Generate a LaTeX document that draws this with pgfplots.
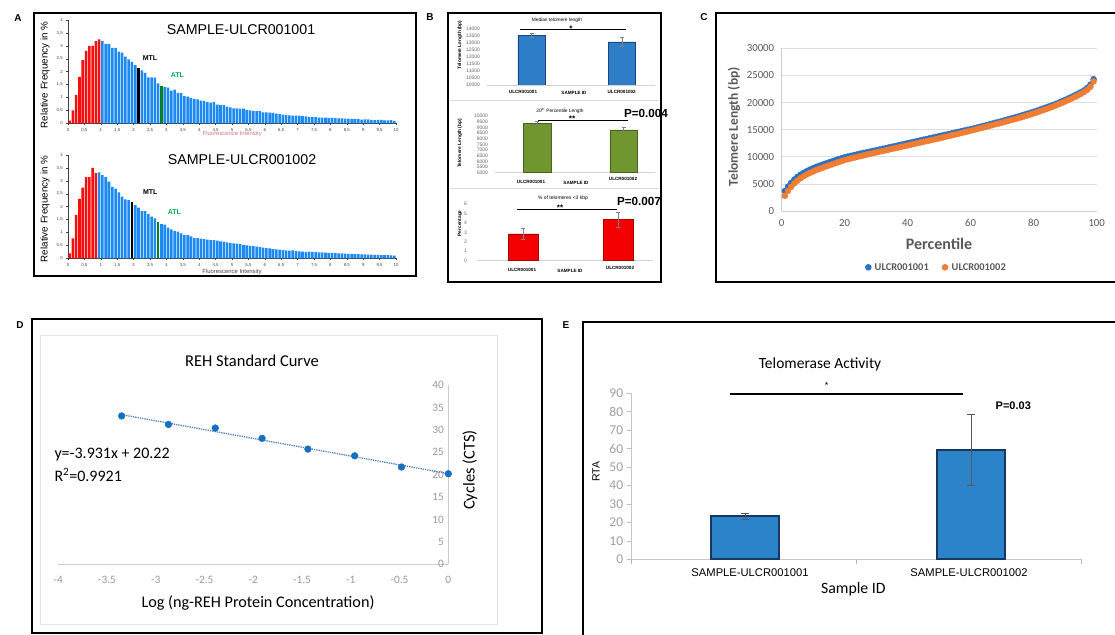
\documentclass[border=0pt]{standalone}
\usepackage{fontspec}
\setmainfont{Liberation Sans}
\newfontfamily\carlito{Carlito}
\usepackage{pgfplots}
\pgfplotsset{compat=1.18}
\definecolor{hred}{RGB}{245,15,15}
\definecolor{hblue}{RGB}{28,138,242}
\definecolor{hgreen}{RGB}{10,130,30}
\definecolor{atlgreen}{RGB}{0,175,80}
\definecolor{flred}{RGB}{205,120,120}
\definecolor{bblue}{RGB}{46,125,200}
\definecolor{bbluedk}{RGB}{25,70,130}
\definecolor{bgreen}{RGB}{112,150,48}
\definecolor{bgreendk}{RGB}{70,100,30}
\definecolor{bred}{RGB}{245,0,0}
\definecolor{breddk}{RGB}{170,0,0}
\definecolor{cblue}{RGB}{40,115,200}
\definecolor{corange}{RGB}{240,125,50}
\definecolor{cgray}{RGB}{89,89,89}
\definecolor{dblue}{RGB}{25,112,192}
\definecolor{dtrend}{RGB}{80,130,185}
\definecolor{ebar}{RGB}{43,131,201}
\definecolor{ebardk}{RGB}{22,56,96}
\pgfplotsset{
  every axis/.append style={scale only axis, anchor=south west, /pgf/number format/assume math mode=true},
  hist/.style={xmin=0,xmax=10,ymin=0,ymax=4, axis lines=left,
    axis line style={-, black!75, line width=0.5pt},
    xtick={0,0.5,...,10}, ytick={0,0.5,...,4},
    tick label style={font=\fontsize{4.3}{5}\selectfont, text=black!75},
    /pgf/number format/use comma, tick align=outside, major tick length=1.8pt,
    tick style={black!75, line width=0.4pt}, enlargelimits=false, clip=false},
  bsub/.style={axis x line*=bottom, axis y line*=left, y axis line style={draw=none},
    x axis line style={-, gray!35, line width=0.6pt}, xtick=\empty, ytick style={draw=none},
    yticklabel style={font=\fontsize{5}{5}\selectfont, text=black!60, xshift=-3.5pt},
    scaled y ticks=false, /pgf/number format/1000 sep={}},
}
\begin{document}
\begin{tikzpicture}
\path[use as bounding box, fill=white] (0,0) rectangle (1115pt,-634pt);
% frames
\draw[line width=2pt] (34pt,-13pt) rectangle (416pt,-276pt);
\draw[line width=2pt] (448pt,-13pt) rectangle (661pt,-282pt);
\draw[line width=2pt] (1116pt,-13pt) -- (716pt,-13pt) -- (716pt,-282pt) -- (1116pt,-282pt);
\draw[line width=2pt] (32pt,-319pt) rectangle (541.7pt,-633pt);
\draw[line width=2pt] (1116pt,-321.7pt) -- (583pt,-321.7pt) -- (583pt,-636pt);
\draw[gray!20, line width=0.8pt] (40pt,-335pt) rectangle (497pt,-624pt);
\draw[gray!30, line width=0.8pt] (450pt,-100pt) -- (659pt,-100pt);
\draw[gray!30, line width=0.8pt] (450pt,-188pt) -- (659pt,-188pt);
% panel letters
\node[font=\bfseries\fontsize{10}{12}\selectfont] at (18pt,-18pt) {A};
\node[font=\bfseries\fontsize{10}{12}\selectfont] at (430pt,-17pt) {B};
\node[font=\bfseries\fontsize{10}{12}\selectfont] at (704pt,-17pt) {C};
\node[font=\bfseries\fontsize{10}{12}\selectfont] at (20pt,-325pt) {D};
\node[font=\bfseries\fontsize{10}{12}\selectfont] at (566pt,-325pt) {E};

% ---------------- Panel A, histogram 1
\begin{axis}[hist, at={(68pt,-123.3pt)}, width=328pt, height=103.3pt]
\addplot[ybar, bar shift=0pt, bar width=0.078, fill=hred, draw=none] coordinates {(0.05,0.1) (0.15,0.5) (0.25,1.1) (0.35,1.8) (0.45,2.45) (0.55,2.8) (0.65,3.0) (0.75,3.0) (0.85,3.18) (0.95,3.25)};
\addplot[ybar, bar shift=0pt, bar width=0.078, fill=hblue, draw=none] coordinates {(1.05,3.18) (1.15,3.08) (1.25,3.07) (1.35,2.92) (1.45,2.92) (1.55,2.78) (1.65,2.74) (1.75,2.58) (1.85,2.48) (1.95,2.38) (2.05,2.25)
(2.25,2.05) (2.35,1.95) (2.45,1.78) (2.55,1.78) (2.65,1.77) (2.75,1.55)
(2.95,1.4) (3.05,1.38) (3.15,1.27) (3.25,1.3) (3.35,1.18) (3.45,1.17) (3.55,1.05) (3.65,1.03) (3.75,0.98) (3.85,0.95) (3.95,0.93) (4.05,0.88) (4.15,0.87) (4.25,0.82) (4.35,0.8) (4.45,0.82) (4.55,0.72) (4.65,0.7) (4.75,0.7) (4.85,0.65) (4.95,0.62) (5.05,0.58) (5.15,0.58) (5.25,0.57) (5.35,0.57) (5.45,0.52) (5.55,0.5) (5.65,0.48) (5.75,0.47) (5.85,0.47) (5.95,0.42) (6.05,0.42) (6.15,0.41) (6.25,0.4) (6.35,0.37) (6.45,0.36) (6.55,0.34) (6.65,0.33) (6.75,0.31) (6.85,0.3) (6.95,0.3) (7.05,0.3) (7.15,0.28) (7.25,0.27) (7.35,0.25) (7.45,0.25) (7.55,0.24) (7.65,0.22) (7.75,0.22) (7.85,0.22) (7.95,0.21) (8.05,0.21) (8.15,0.2) (8.25,0.19) (8.35,0.19) (8.45,0.18) (8.55,0.18) (8.65,0.17) (8.75,0.17) (8.85,0.16) (8.95,0.14) (9.05,0.15) (9.15,0.15) (9.25,0.13) (9.35,0.12) (9.45,0.13) (9.55,0.13) (9.65,0.11) (9.75,0.11) (9.85,0.12) (9.95,0.09)};
\addplot[ybar, bar shift=0pt, bar width=0.078, fill=black, draw=none] coordinates {(2.15,2.15)};
\addplot[ybar, bar shift=0pt, bar width=0.078, fill=hgreen, draw=none] coordinates {(2.85,1.45)};
\end{axis}
\node[font=\fontsize{14.2}{16}\selectfont] at (241pt,-30pt) {SAMPLE-ULCR001001};
\node[font=\bfseries\fontsize{7}{8}\selectfont] at (150pt,-58.3pt) {MTL};
\node[font=\bfseries\fontsize{7}{8}\selectfont, text=atlgreen] at (177.3pt,-75pt) {ATL};
\node[font=\fontsize{9.8}{11}\selectfont, rotate=90] at (45pt,-75pt) {Relative Frequency in \%};
\node[font=\fontsize{5.9}{7}\selectfont, text=flred] at (232.3pt,-134.3pt) {Fluorescence Intensity};

% ---------------- Panel A, histogram 2
\begin{axis}[hist, at={(68pt,-258.3pt)}, width=328pt, height=103.3pt]
\addplot[ybar, bar shift=0pt, bar width=0.078, fill=hred, draw=none] coordinates {(0.05,0.19) (0.15,0.77) (0.25,1.68) (0.35,2.3) (0.45,2.74) (0.55,3.14) (0.65,3.14) (0.75,3.5) (0.85,3.3)};
\addplot[ybar, bar shift=0pt, bar width=0.078, fill=hblue, draw=none] coordinates {(0.95,3.33) (1.05,3.22) (1.15,3.14) (1.25,2.97) (1.35,2.77) (1.45,2.7) (1.55,2.55) (1.65,2.39) (1.75,2.28) (1.85,2.25)
(2.05,2.06) (2.15,1.96) (2.25,1.83) (2.35,1.83) (2.45,1.72) (2.55,1.61) (2.65,1.55)
(2.85,1.32) (2.95,1.3) (3.05,1.19) (3.15,1.12) (3.25,1.06) (3.35,1.03) (3.45,0.97) (3.55,0.9) (3.65,0.9) (3.75,0.85) (3.85,0.78) (3.95,0.78) (4.05,0.76) (4.15,0.74) (4.25,0.72) (4.35,0.7) (4.45,0.7) (4.55,0.68) (4.65,0.66) (4.75,0.65) (4.85,0.62) (4.95,0.6) (5.05,0.58) (5.15,0.57) (5.25,0.55) (5.35,0.52) (5.45,0.5) (5.55,0.48) (5.65,0.47) (5.75,0.45) (5.85,0.43) (5.95,0.41) (6.05,0.39) (6.15,0.38) (6.25,0.36) (6.35,0.35) (6.45,0.34) (6.55,0.32) (6.65,0.31) (6.75,0.3) (6.85,0.31) (6.95,0.28) (7.05,0.27) (7.15,0.26) (7.25,0.25) (7.35,0.26) (7.45,0.25) (7.55,0.24) (7.65,0.23) (7.75,0.23) (7.85,0.22) (7.95,0.21) (8.05,0.21) (8.15,0.2) (8.25,0.19) (8.35,0.19) (8.45,0.18) (8.55,0.17) (8.65,0.17) (8.75,0.16) (8.85,0.16) (8.95,0.15) (9.05,0.15) (9.15,0.14) (9.25,0.14) (9.35,0.13) (9.45,0.13) (9.55,0.12) (9.65,0.12) (9.75,0.12) (9.85,0.11) (9.95,0.1)};
\addplot[ybar, bar shift=0pt, bar width=0.078, fill=black, draw=none] coordinates {(1.95,2.19)};
\addplot[ybar, bar shift=0pt, bar width=0.078, fill=hgreen, draw=none] coordinates {(2.75,1.42)};
\end{axis}
\node[font=\fontsize{14.2}{16}\selectfont] at (242pt,-160pt) {SAMPLE-ULCR001002};
\node[font=\bfseries\fontsize{7}{8}\selectfont] at (150.3pt,-191.7pt) {MTL};
\node[font=\bfseries\fontsize{7}{8}\selectfont, text=atlgreen] at (174.3pt,-212.3pt) {ATL};
\node[font=\fontsize{9.8}{11}\selectfont, rotate=90] at (45pt,-209pt) {Relative Frequency in \%};
\node[font=\fontsize{5.9}{7}\selectfont, text=black!75] at (232pt,-271.5pt) {Fluorescence Intensity};

% ---------------- Panel B, sub 1
\begin{axis}[bsub, at={(487pt,-85pt)}, width=168pt, height=56.7pt, xmin=487, xmax=655, ymin=10000, ymax=14000, ytick={10000,10500,...,14000}]
\addplot[ybar, bar shift=0pt, bar width=27.5, fill=bblue, draw=bbluedk, line width=0.5pt,
  error bars/.cd, y dir=both, y explicit, error bar style={gray, line width=0.6pt}, error mark options={rotate=90, mark size=2pt, gray}]
  coordinates {(531.7,13520) +- (0,160) (621.8,13050) +- (0,300)};
\end{axis}
\node[font=\fontsize{4.8}{5}\selectfont] at (557pt,-20.7pt) {Median telomere length};
\draw[line width=0.9pt] (520pt,-29.5pt) -- (626pt,-29.5pt);
\node[anchor=base, font=\bfseries\fontsize{8}{8}\selectfont, inner sep=0pt] at (571pt,-31.2pt) {*};
\node[font=\bfseries\fontsize{4.6}{5}\selectfont] at (523pt,-92pt) {ULCR001001};
\node[font=\bfseries\fontsize{4.6}{5}\selectfont] at (574pt,-92.7pt) {SAMPLE ID};
\node[font=\bfseries\fontsize{4.6}{5}\selectfont] at (621.7pt,-92pt) {ULCR001002};
\node[font=\bfseries\fontsize{4.8}{5}\selectfont, rotate=90] at (460pt,-45pt) {Telomere Length (bp)};

% ---------------- Panel B, sub 2
\begin{axis}[bsub, at={(495pt,-172.7pt)}, width=160pt, height=56.7pt, xmin=495, xmax=655, ymin=5000, ymax=10000, ytick={5000,5500,...,10000}]
\addplot[ybar, bar shift=0pt, bar width=27.5, fill=bgreen, draw=bgreendk, line width=0.5pt,
  error bars/.cd, y dir=both, y explicit, error bar style={gray, line width=0.6pt}, error mark options={rotate=90, mark size=2pt, gray}]
  coordinates {(537.2,9356) +- (0,150) (623.7,8770) +- (0,250)};
\end{axis}
\node[font=\fontsize{4.8}{5}\selectfont] at (560pt,-110.7pt) {20\textsuperscript{th} Percentile Length};
\draw[line width=0.9pt] (538pt,-120pt) -- (628pt,-120pt);
\node[anchor=base, font=\bfseries\fontsize{8}{8}\selectfont, inner sep=0pt] at (572pt,-121.6pt) {**};
\node[font=\bfseries\fontsize{11.7}{13}\selectfont] at (646pt,-113pt) {P=0.004};
\node[font=\bfseries\fontsize{4.6}{5}\selectfont] at (531pt,-181.7pt) {ULCR001001};
\node[font=\bfseries\fontsize{4.6}{5}\selectfont] at (576pt,-182.7pt) {SAMPLE ID};
\node[font=\bfseries\fontsize{4.6}{5}\selectfont] at (623pt,-179pt) {ULCR001002};
\node[font=\bfseries\fontsize{4.8}{5}\selectfont, rotate=90] at (460pt,-143.3pt) {Telomere Length (bp)};

% ---------------- Panel B, sub 3
\begin{axis}[bsub, at={(477pt,-260.7pt)}, width=176pt, height=56.7pt, xmin=477, xmax=653, ymin=0, ymax=6, ytick={0,1,...,6}, yticklabel style={xshift=-3pt}]
\addplot[ybar, bar shift=0pt, bar width=29.5, fill=bred, draw=breddk, line width=0.5pt,
  error bars/.cd, y dir=both, y explicit, error bar style={gray, line width=0.6pt}, error mark options={rotate=90, mark size=2pt, gray}]
  coordinates {(523.3,2.83) +- (0,0.6) (618.3,4.34) +- (0,0.8)};
\end{axis}
\node[font=\fontsize{5}{5}\selectfont] at (563pt,-198.3pt) {\% of telomeres <3 kbp};
\draw[line width=0.9pt] (516.7pt,-209.3pt) -- (616.7pt,-209.3pt);
\node[anchor=base, font=\bfseries\fontsize{8}{8}\selectfont, inner sep=0pt] at (560pt,-210.8pt) {**};
\node[font=\bfseries\fontsize{11.7}{13}\selectfont] at (639pt,-201.7pt) {P=0.007};
\node[font=\bfseries\fontsize{4.6}{5}\selectfont] at (522pt,-270pt) {ULCR001001};
\node[font=\bfseries\fontsize{4.6}{5}\selectfont] at (570pt,-271pt) {SAMPLE ID};
\node[font=\bfseries\fontsize{4.6}{5}\selectfont] at (620pt,-268pt) {ULCR001002};
\node[font=\bfseries\fontsize{4.8}{5}\selectfont, rotate=90] at (460pt,-223.3pt) {Percentage};

% ---------------- Panel C
\begin{axis}[at={(781.7pt,-211pt)}, width=315pt, height=162.7pt, xmin=0, xmax=100, ymin=0, ymax=30000,
  xtick={0,20,...,100}, ytick={0,5000,...,30000}, ymajorgrids, grid style={gray!25, line width=0.6pt},
  axis lines*=left, axis line style={-, gray!40, line width=0.6pt}, tick style={draw=none},
  tick label style={font=\carlito\fontsize{10.8}{12}\selectfont, text=cgray},
  xticklabel style={yshift=-5pt}, yticklabel style={xshift=-4pt},
  scaled y ticks=false, /pgf/number format/1000 sep={}, clip=false]
\addplot[only marks, mark=*, mark size=3pt, color=cblue] coordinates {
(1,3700) (2,4500) (3,5200) (4,5800) (5,6300) (6,6700) (7,7050) (8,7350) (9,7650) (10,7900)
(11,8150) (12,8350) (13,8550) (14,8750) (15,8950) (16,9150) (17,9350) (18,9550) (19,9730) (20,9900)
(21,10040) (22,10180) (23,10320) (24,10450) (25,10580) (26,10710) (27,10830) (28,10950) (29,11080) (30,11200)
(31,11330) (32,11460) (33,11590) (34,11720) (35,11850) (36,11980) (37,12110) (38,12240) (39,12370) (40,12500)
(41,12630) (42,12760) (43,12890) (44,13020) (45,13150) (46,13280) (47,13410) (48,13540) (49,13670) (50,13800)
(51,13930) (52,14060) (53,14190) (54,14320) (55,14450) (56,14580) (57,14710) (58,14840) (59,14970) (60,15100)
(61,15240) (62,15380) (63,15530) (64,15680) (65,15830) (66,15980) (67,16130) (68,16290) (69,16440) (70,16600)
(71,16760) (72,16920) (73,17080) (74,17240) (75,17410) (76,17580) (77,17760) (78,17940) (79,18120) (80,18300)
(81,18490) (82,18690) (83,18890) (84,19100) (85,19310) (86,19520) (87,19750) (88,19990) (89,20240) (90,20500)
(91,20760) (92,21030) (93,21310) (94,21600) (95,21900) (96,22250) (97,22700) (98,23300) (99,24300)};
\addplot[only marks, mark=*, mark size=3pt, color=corange] coordinates {
(1,2800) (2,3700) (3,4450) (4,5100) (5,5600) (6,6050) (7,6420) (8,6750) (9,7050) (10,7300)
(11,7560) (12,7780) (13,7990) (14,8200) (15,8400) (16,8600) (17,8800) (18,9000) (19,9200) (20,9400)
(21,9550) (22,9700) (23,9840) (24,9980) (25,10120) (26,10260) (27,10400) (28,10530) (29,10660) (30,10800)
(31,10930) (32,11060) (33,11190) (34,11320) (35,11450) (36,11580) (37,11710) (38,11840) (39,11970) (40,12100)
(41,12230) (42,12360) (43,12490) (44,12620) (45,12750) (46,12880) (47,13010) (48,13140) (49,13270) (50,13400)
(51,13540) (52,13680) (53,13820) (54,13960) (55,14100) (56,14240) (57,14380) (58,14520) (59,14660) (60,14800)
(61,14950) (62,15100) (63,15250) (64,15400) (65,15550) (66,15700) (67,15850) (68,16000) (69,16150) (70,16300)
(71,16460) (72,16620) (73,16780) (74,16940) (75,17100) (76,17270) (77,17450) (78,17630) (79,17810) (80,18000)
(81,18190) (82,18390) (83,18590) (84,18800) (85,19010) (86,19230) (87,19460) (88,19700) (89,19950) (90,20200)
(91,20460) (92,20730) (93,21010) (94,21300) (95,21600) (96,21950) (97,22350) (98,22900) (99,23900)};
\end{axis}
\node[font=\carlito\bfseries\fontsize{13.5}{15}\selectfont, text=cgray, rotate=90] at (734pt,-126.7pt) {Telomere Length (bp)};
\node[font=\carlito\bfseries\fontsize{16}{18}\selectfont, text=cgray] at (939pt,-244.3pt) {Percentile};
\fill[cblue] (868.3pt,-267.3pt) circle (3.3pt);
\node[anchor=west, inner sep=0pt, font=\carlito\bfseries\fontsize{10.4}{12}\selectfont, text=cgray] at (874.5pt,-267.3pt) {ULCR001001};
\fill[corange] (945pt,-267.3pt) circle (3.3pt);
\node[anchor=west, inner sep=0pt, font=\carlito\bfseries\fontsize{10.4}{12}\selectfont, text=cgray] at (951.5pt,-267.3pt) {ULCR001002};

% ---------------- Panel D
\begin{axis}[at={(58.3pt,-564.3pt)}, width=390pt, height=179.3pt, xmin=-4, xmax=0, ymin=0, ymax=40,
  axis x line=bottom, axis y line=right, axis line style={-, gray!40, line width=0.8pt},
  xtick={-4,-3.5,...,0}, ytick={0,5,...,40}, tick style={draw=none},
  tick label style={font=\carlito\fontsize{11.3}{12}\selectfont, text=gray!80},
  yticklabel style={anchor=east, xshift=-3pt}, xticklabel style={yshift=-6pt}, clip=false]
\addplot[densely dotted, line width=1.3pt, color=dtrend] coordinates {(-3.35,33.39) (0,20.22)};
\addplot[only marks, mark=*, mark size=3.4pt, color=dblue] coordinates {(-3.35,33.1) (-2.87,31.2) (-2.39,30.4) (-1.91,28.1) (-1.44,25.7) (-0.96,24.2) (-0.48,21.7) (0,20.2)};
\end{axis}
\node[font=\carlito\fontsize{16.5}{18}\selectfont] at (252pt,-360.7pt) {REH Standard Curve};
\node[anchor=west, font=\carlito\fontsize{16}{18}\selectfont, inner sep=0pt] at (54.3pt,-455pt) {y=-3.931x + 20.22};
\node[anchor=west, font=\carlito\fontsize{16}{18}\selectfont, inner sep=0pt] at (54.3pt,-475pt) {R\textsuperscript{2}=0.9921};
\node[font=\carlito\fontsize{16.5}{18}\selectfont, rotate=90] at (470pt,-470pt) {Cycles (CTS)};
\node[font=\carlito\fontsize{16.2}{18}\selectfont] at (258pt,-602.7pt) {Log (ng-REH Protein Concentration)};

% ---------------- Panel E
\begin{axis}[at={(631.7pt,-559.3pt)}, width=450pt, height=166pt, xmin=631.7, xmax=1081.7, ymin=0, ymax=90,
  axis x line*=bottom, axis y line*=left, axis line style={-, gray!45, line width=0.7pt},
  xtick={631.7,856.7,1081.7}, xticklabels={}, ytick={0,10,...,90},
  tick align=outside, major tick length=5pt, tick style={gray!55, line width=0.6pt},
  tick label style={font=\carlito\fontsize{13.5}{14}\selectfont, text=gray!75}]
\addplot[ybar, bar shift=0pt, bar width=68, fill=ebar, draw=ebardk, line width=2pt,
  error bars/.cd, y dir=both, y explicit, error bar style={black!65, line width=0.8pt}, error mark options={rotate=90, mark size=4pt, black!65, line width=0.8pt}]
  coordinates {(745,23.5) +- (0,1.6) (971,59.3) +- (0,19)};
\end{axis}
\node[font=\carlito\fontsize{15.5}{17}\selectfont] at (820pt,-364.3pt) {Telomerase Activity};
\node[font=\fontsize{9}{10}\selectfont] at (826.7pt,-385pt) {*};
\draw[line width=1.2pt] (730pt,-394pt) -- (962.7pt,-394pt);
\node[font=\bfseries\fontsize{11}{12}\selectfont] at (1013.3pt,-406pt) {P=0.03};
\node[font=\fontsize{10.5}{12}\selectfont, rotate=90] at (596pt,-471.7pt) {RTA};
\node[font=\fontsize{11.2}{12}\selectfont] at (750pt,-572.7pt) {SAMPLE-ULCR001001};
\node[font=\fontsize{11.2}{12}\selectfont] at (969pt,-572.7pt) {SAMPLE-ULCR001002};
\node[font=\carlito\fontsize{15.8}{17}\selectfont] at (853.3pt,-589pt) {Sample ID};
\end{tikzpicture}
\end{document}
